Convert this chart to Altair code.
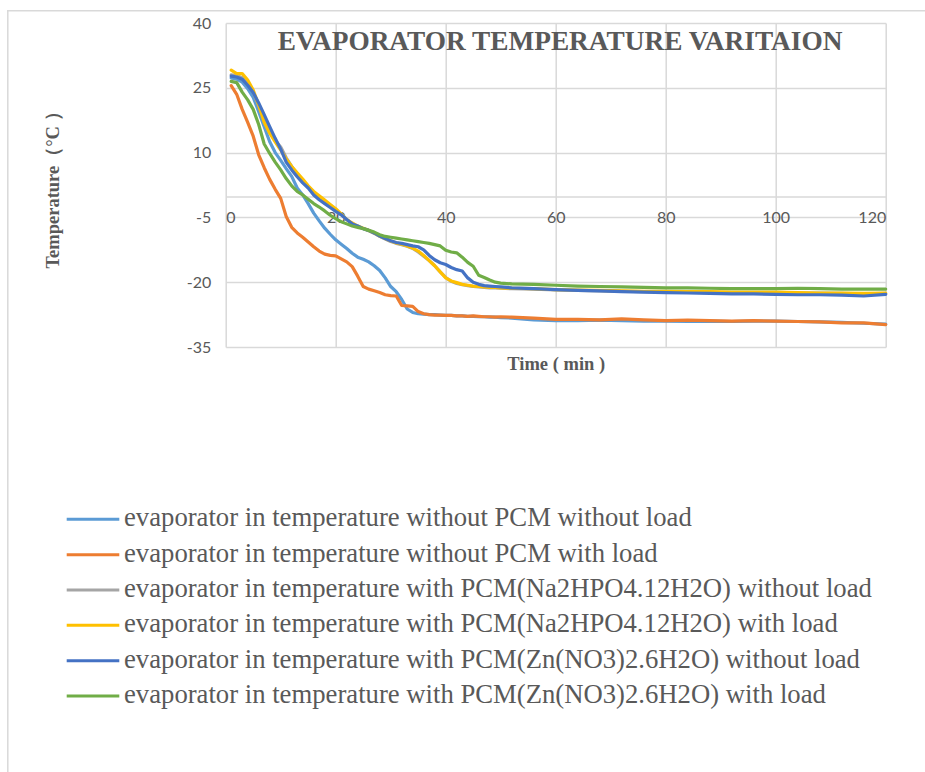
import altair as alt
import pandas as pd

names = [
    "evaporator in temperature without PCM without load",
    "evaporator in temperature without PCM with load",
    "evaporator in temperature with PCM(Na2HPO4.12H2O) without load",
    "evaporator in temperature with PCM(Na2HPO4.12H2O) with load",
    "evaporator in temperature with PCM(Zn(NO3)2.6H2O) without load",
    "evaporator in temperature with PCM(Zn(NO3)2.6H2O) with load",
]
colors = ["#5B9BD5", "#ED7D31", "#A5A5A5", "#FFC000", "#4472C4", "#70AD47"]

times = list(range(1, 51)) + list(range(52, 121, 4))

s1 = [27.3, 27.0, 26.3, 24.8, 22.8, 19.5, 16.0, 12.5, 10.0, 8.2,
      6.3, 4.5, 1.8, 0.2, -1.8, -4.0, -5.8, -7.5, -8.9, -10.2,
      -11.2, -12.2, -13.3, -14.2, -14.7, -15.3, -16.2, -17.3, -19.0, -21.0,
      -22.2, -24.0, -26.2, -27.0, -27.3, -27.4, -27.5, -27.5, -27.6, -27.7,
      -27.7, -27.8, -27.8, -27.9, -27.9, -28.0, -28.0, -28.1, -28.1, -28.2,
      -28.3, -28.7, -28.9, -28.9, -28.8, -28.9, -29.0, -29.0, -29.1, -29.0,
      -29.1, -29.0, -29.0, -29.1, -29.2, -29.3, -29.5, -29.7]
s2 = [25.5, 23.5, 20.0, 17.0, 13.8, 9.5, 6.5, 3.8, 1.5, -0.6,
      -4.8, -7.3, -8.6, -9.6, -10.7, -11.8, -12.8, -13.5, -13.8, -13.9,
      -14.6, -15.3, -16.4, -18.6, -21.0, -21.6, -22.0, -22.4, -22.9, -23.1,
      -23.2, -25.4, -25.5, -25.6, -26.8, -27.3, -27.5, -27.6, -27.6, -27.7,
      -27.7, -27.8, -27.8, -27.9, -27.8, -27.9, -28.0, -28.0, -28.1, -28.0,
      -28.1, -28.3, -28.6, -28.6, -28.7, -28.5, -28.7, -28.9, -28.8, -28.9,
      -29.0, -28.9, -29.0, -29.1, -29.2, -29.4, -29.4, -29.8]
s3 = [28.0, 27.8, 27.4, 26.0, 24.0, 21.0, 17.8, 15.0, 12.8, 11.3,
      8.8, 6.8, 5.0, 3.5, 2.0, 0.6, -0.4, -1.4, -2.3, -3.2,
      -4.3, -5.5, -6.4, -7.1, -7.6, -8.1, -8.7, -9.4, -10.0, -10.6,
      -11.0, -11.3, -11.7, -12.2, -13.0, -14.0, -15.0, -16.2, -17.6, -18.9,
      -19.8, -20.3, -20.6, -20.8, -21.0, -21.1, -21.2, -21.3, -21.3, -21.4,
      -21.5, -21.6, -21.8, -21.9, -22.0, -22.1, -22.2, -22.2, -22.3, -22.3,
      -22.4, -22.4, -22.4, -22.5, -22.5, -22.6, -22.7, -22.6]
s4 = [29.1, 28.3, 28.3, 26.8, 24.5, 21.0, 17.0, 14.5, 12.5, 10.6,
      8.5, 6.8, 5.3, 3.9, 2.3, 1.0, 0.0, -1.0, -2.0, -3.0,
      -4.2, -5.5, -6.3, -7.0, -7.5, -8.0, -8.6, -9.3, -9.9, -10.4,
      -10.9, -11.2, -11.6, -12.1, -12.8, -13.8, -15.0, -16.2, -17.6, -19.0,
      -19.7, -20.1, -20.5, -20.7, -20.9, -21.0, -21.1, -21.2, -21.2, -21.3,
      -21.4, -21.5, -21.7, -21.8, -21.9, -22.0, -22.1, -22.1, -22.2, -22.2,
      -22.3, -22.3, -22.3, -22.4, -22.5, -22.5, -22.6, -22.5]
s5 = [27.7, 27.5, 27.0, 25.6, 23.9, 21.5, 18.8, 16.0, 13.3, 10.8,
      7.8, 6.0, 4.4, 3.0, 1.8, 0.2, -0.9, -1.8, -2.7, -3.6,
      -4.4, -5.5, -6.5, -7.0, -7.6, -8.0, -8.6, -9.3, -9.9, -10.4,
      -10.8, -11.0, -11.3, -11.6, -11.8, -12.5, -13.8, -14.8, -15.5, -15.9,
      -16.6, -17.1, -17.4, -19.0, -20.0, -20.5, -20.8, -20.9, -21.0, -21.1,
      -21.3, -21.5, -21.7, -21.9, -22.0, -22.2, -22.3, -22.4, -22.5, -22.6,
      -22.7, -22.7, -22.8, -22.9, -22.9, -23.0, -23.2, -22.8]
s6 = [26.5, 26.2, 24.0, 22.2, 20.0, 16.5, 12.0, 9.8, 7.8, 6.0,
      4.0, 2.3, 1.0, 0.2, -0.8, -1.8, -2.6, -3.5, -4.5, -5.3,
      -6.0, -6.5, -7.0, -7.3, -7.6, -8.0, -8.4, -9.0, -9.4, -9.6,
      -9.8, -10.0, -10.2, -10.4, -10.6, -10.8, -11.0, -11.3, -11.6, -12.6,
      -13.0, -13.2, -14.2, -15.4, -16.3, -18.4, -18.9, -19.5, -20.0, -20.2,
      -20.4, -20.5, -20.7, -20.9, -21.0, -21.1, -21.2, -21.3, -21.3, -21.4,
      -21.5, -21.5, -21.5, -21.4, -21.5, -21.6, -21.6, -21.6]

x_ticks = [0, 20, 40, 60, 80, 100, 120]
y_ticks = [-35, -20, -5, 10, 25, 40]

title_text = "EVAPORATOR TEMPERATURE VARITAION"
x_title = "Time ( min )"
y_title = "Temperature（°C ）"

series_values = [s1, s2, s3, s4, s5, s6]
rows = []
for name, vals in zip(names, series_values):
    for t, v in zip(times, vals):
        rows.append({"series": name, "t": t, "T": v})
df = pd.DataFrame(rows)
legend_df = pd.DataFrame({"series": names})

PL, PT, W, H = 225.7, 23.0, 660, 324
GRID = "#d9d9d9"
TXT = "#595959"
LABEL_EXPR = "'' + datum.value"

color_enc = alt.Color("series:N", scale=alt.Scale(domain=names, range=colors), legend=None)

lines = alt.Chart(df).mark_line(strokeWidth=3.2, strokeJoin="round", strokeCap="round").encode(
    x=alt.X("t:Q", scale=alt.Scale(domain=[0, 120], nice=False, zero=False),
            axis=alt.Axis(values=x_ticks, grid=True, gridColor=GRID, gridWidth=1.5,
                          domainColor=GRID, domainWidth=1.5, ticks=False, labelExpr=LABEL_EXPR,
                          labelFont="Lato", labelFontSize=16, labelColor=TXT, labelPadding=13,
                          offset=-(H - (196.4 - PT)),
                          title=x_title, titleFont="Liberation Serif", titleFontWeight="bold",
                          titleFontSize=18.5, titleColor=TXT, titleX=W / 2, titleY=166.6,
                          titleBaseline="middle", titleAlign="center")),
    y=alt.Y("T:Q", scale=alt.Scale(domain=[-35, 40], nice=False, zero=False),
            axis=alt.Axis(values=y_ticks, grid=True, gridColor=GRID, gridWidth=1.5,
                          domain=False, ticks=False, labelExpr=LABEL_EXPR,
                          labelFont="Lato", labelFontSize=16, labelColor=TXT, labelPadding=15,
                          title=y_title, titleFont="Liberation Serif", titleFontWeight="bold",
                          titleFontSize=18.5, titleColor=TXT, titleAngle=-90,
                          titleX=52 - PL, titleY=185 - PT, titleBaseline="middle", titleAlign="center")),
    color=color_enc,
)

leg_scale = alt.Scale(type="point", range=[519.3 - PT, 696.0 - PT], padding=0)

leg_rules = alt.Chart(legend_df).mark_rule(strokeWidth=3).encode(
    x=alt.value(66.7 - PL), x2=alt.value(119.3 - PL),
    y=alt.Y("series:N", sort=names, scale=leg_scale, axis=None), color=color_enc,
)
leg_text = alt.Chart(legend_df).mark_text(
    align="left", baseline="alphabetic", dy=7, fontSize=26.7, font="Liberation Serif", color=TXT
).encode(x=alt.value(124 - PL), y=alt.Y("series:N", sort=names, scale=leg_scale, axis=None),
         text="series:N")

one = pd.DataFrame({"label": [title_text]})
title_mark = alt.Chart(one).mark_text(
    align="center", baseline="alphabetic", fontSize=27.3, font="Liberation Serif",
    fontWeight="bold", color=TXT
).encode(x=alt.value(560 - PL), y=alt.value(50 - PT), text="label:N")

frame_top = alt.Chart(one).mark_rule(color=GRID, strokeWidth=1.5).encode(
    x=alt.value(7 - PL), x2=alt.value(935 - PL), y=alt.value(10.8 - PT))
frame_left = alt.Chart(one).mark_rule(color=GRID, strokeWidth=1.5).encode(
    x=alt.value(7.8 - PL), y=alt.value(10 - PT), y2=alt.value(780 - PT))

chart = alt.layer(frame_top, frame_left, lines, leg_rules, leg_text, title_mark).resolve_scale(
    y="independent"
).properties(
    width=W, height=H,
    autosize=alt.AutoSizeParams(type="none"),
    padding={"left": PL, "top": PT, "right": 925 - PL - W, "bottom": 772 - PT - H},
    background="white",
).configure_view(stroke=None)

chart.save("out.html", embed_options={"renderer": "svg", "actions": False})
